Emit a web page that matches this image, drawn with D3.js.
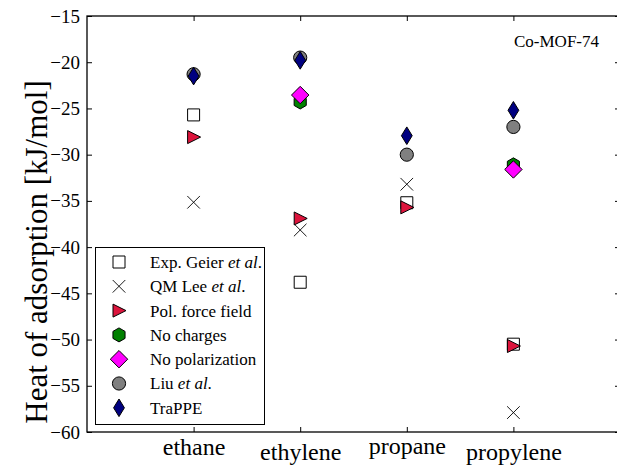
<!DOCTYPE html>
<html>
<head>
<meta charset="utf-8">
<script src="https://cdn.jsdelivr.net/npm/d3@7"></script>
<style>
  body { margin: 0; background: #fff; }
  svg text { font-family: "Liberation Serif", "DejaVu Serif", serif !important; fill: #000; }
</style>
</head>
<body>
<div id="chart"></div>
<script>
const categories = ["ethane", "ethylene", "propane", "propylene"];
const yTicks = [-60, -55, -50, -45, -40, -35, -30, -25, -20, -15];

// heat of adsorption values per category (kJ/mol), null = not reported
const expGeier = [-25.7, -43.8, -35.2, -50.5];
const qmLee = [-35.15, -38.15, -33.2, -57.9];
const polForceField = [-28.1, -36.9, -35.7, -50.7];
const noCharges = [null, -24.3, null, -31.1];
const noPolarization = [null, -23.55, null, -31.6];
const liu = [-21.3, -19.5, -30.0, -27.0];
const trappe = [-21.5, -19.8, -27.95, -25.2];

const seriesNames = [
  "Exp. Geier et al.",
  "QM Lee et al.",
  "Pol. force field",
  "No charges",
  "No polarization",
  "Liu et al.",
  "TraPPE",
];

const drawChart = () => {
  const width = 617;
  const height = 465;
  const margin = { top: 16, right: -3, bottom: 33, left: 87 };

  const x = d3.scaleLinear()
    .domain([0, 5])
    .range([margin.left, width - margin.right]);

  const y = d3.scaleLinear()
    .domain([-60, -15])
    .range([height - margin.bottom, margin.top]);

  // marker shapes, matplotlib style
  const hex = d3.range(6).map((k) => {
    const a = -Math.PI / 2 + k * Math.PI / 3;
    return [7 * Math.cos(a), 7 * Math.sin(a)];
  });
  const markers = {
    square: "M-6,-6H6V6H-6Z",
    cross: "M-6.3,-6.3L6.3,6.3M-6.3,6.3L6.3,-6.3",
    triRight: "M-6,-6.5L7,0L-6,6.5Z",
    hexagon: "M" + hex.map((p) => p.join(",")).join("L") + "Z",
    diamond: "M0,-8.7L8.7,0L0,8.7L-8.7,0Z",
    thinDiamond: "M0,-8.8L5.4,0L0,8.8L-5.4,0Z",
  };

  const styles = [
    { shape: markers.square, fill: "#fff" },
    { shape: markers.cross, fill: "none" },
    { shape: markers.triRight, fill: "#dc143c" },
    { shape: markers.hexagon, fill: "#008000" },
    { shape: markers.diamond, fill: "#ff00ff" },
    { shape: "circle", fill: "#808080" },
    { shape: markers.thinDiamond, fill: "#000080" },
  ];

  const seriesValues = [expGeier, qmLee, polForceField, noCharges, noPolarization, liu, trappe];
  const series = seriesNames.map((name, i) => ({
    name,
    style: styles[i],
    points: seriesValues[i]
      .map((v, j) => ({ cat: j + 1, value: v }))
      .filter((d) => d.value !== null),
  }));

  const svg = d3.select("#chart")
    .append("svg")
      .attr("width", width)
      .attr("height", height);

  const drawMarker = (sel, style) => {
    if (style.shape === "circle") {
      sel.append("circle")
        .attr("r", 6.6)
        .attr("fill", style.fill)
        .attr("stroke", "#000")
        .attr("stroke-width", 1);
    } else {
      sel.append("path")
        .attr("d", style.shape)
        .attr("fill", style.fill)
        .attr("stroke", "#000")
        .attr("stroke-width", style.fill === "none" ? 0.9 : 1);
    }
  };

  // Axes with inward ticks
  const yLeft = svg.append("g")
    .attr("transform", `translate(${margin.left},0)`)
    .call(d3.axisLeft(y).tickValues(yTicks).tickSizeInner(-5).tickSizeOuter(0).tickPadding(7));

  svg.append("g")
    .attr("transform", `translate(${width - margin.right},0)`)
    .call(d3.axisRight(y).tickValues(yTicks).tickSizeInner(-5).tickSizeOuter(0).tickFormat(""));

  svg.append("g")
    .attr("transform", `translate(0,${margin.top})`)
    .call(d3.axisTop(x).tickValues([1, 2, 3, 4]).tickSizeInner(-5).tickSizeOuter(0).tickFormat(""));

  const labelOffsets = [23, 28, 22, 28];
  const xBottom = svg.append("g")
    .attr("transform", `translate(0,${height - margin.bottom})`)
    .call(d3.axisBottom(x).tickValues([1, 2, 3, 4]).tickSizeInner(-5).tickSizeOuter(0)
      .tickFormat((d) => categories[d - 1]));

  svg.selectAll(".domain").remove();
  svg.selectAll(".tick line").attr("stroke", "#000").attr("stroke-width", 1);

  yLeft.selectAll("text")
    .attr("font-size", 19);

  xBottom.selectAll("text")
    .attr("font-size", 24)
    .attr("dy", null)
    .attr("y", (d, i) => labelOffsets[i]);

  // plot frame
  svg.append("rect")
    .attr("x", margin.left)
    .attr("y", margin.top)
    .attr("width", width - margin.right - margin.left)
    .attr("height", height - margin.bottom - margin.top)
    .attr("fill", "none")
    .attr("stroke", "#000")
    .attr("stroke-width", 1.3);

  // data markers
  series.forEach((s) => {
    svg.append("g")
      .selectAll("g")
      .data(s.points)
      .join("g")
        .attr("transform", (d) => `translate(${x(d.cat)},${y(d.value)})`)
        .each(function () { drawMarker(d3.select(this), s.style); });
  });

  // Legend
  const legend = svg.append("g");
  legend.append("rect")
    .attr("x", 95.5)
    .attr("y", 247.5)
    .attr("width", 169)
    .attr("height", 177)
    .attr("fill", "#fff")
    .attr("stroke", "#000")
    .attr("stroke-width", 1);

  const rows = legend.selectAll(".row")
    .data(series)
    .join("g")
      .attr("class", "row")
      .attr("transform", (d, i) => `translate(119,${262 + i * 24.3})`);

  rows.each(function (d) { drawMarker(d3.select(this), d.style); });

  const labels = rows.append("text")
    .attr("x", 31)
    .attr("dy", "0.35em")
    .attr("font-size", 17);

  labels.each(function (d) {
    const t = d3.select(this);
    const parts = d.name.split("et al.");
    t.append("tspan").text(parts[0]);
    if (parts.length > 1) {
      t.append("tspan").attr("font-style", "italic").text("et al");
      t.append("tspan").text(".");
    }
  });

  // annotation and y label
  svg.append("text")
    .attr("x", 514)
    .attr("y", 47)
    .attr("font-size", 17)
    .text("Co-MOF-74");

  svg.append("text")
    .attr("transform", `translate(47,252) rotate(-90)`)
    .attr("text-anchor", "middle")
    .attr("font-size", 31)
    .text("Heat of adsorption [kJ/mol]");
};

drawChart();
</script>
</body>
</html>
